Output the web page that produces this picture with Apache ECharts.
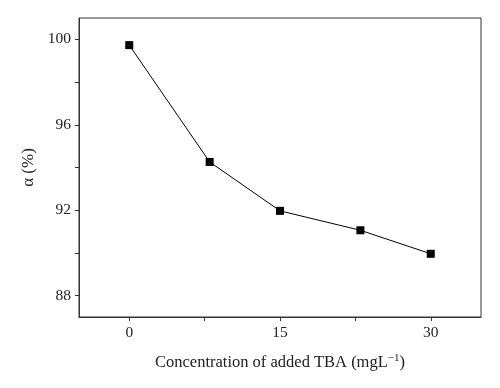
<!DOCTYPE html>
<html><head><meta charset="utf-8">
<script src="https://cdn.jsdelivr.net/npm/echarts@6/dist/echarts.min.js"></script>
<style>html,body{margin:0;padding:0;background:#fff}#c{width:500px;height:388px}</style>
</head><body><div id="c"></div>
<script>
const concentrations = [0, 8, 15, 23, 30];
const alphaValues = [99.73, 94.26, 91.97, 91.06, 89.96];
const xTicks = [0, 15, 30];
const xMinorTicks = [0, 7.5, 15, 22.5, 30];
const yTicks = [88, 92, 96, 100];
const yMinorTicks = [88, 90, 92, 94, 96, 98, 100];

const font = '"Liberation Serif", "DejaVu Serif", serif';
const chart = echarts.init(document.getElementById('c'), null, {renderer: 'canvas'});
chart.setOption({
  animation: false,
  backgroundColor: '#fff',
  grid: {left: 79, right: 19, top: 18, bottom: 71, show: true, borderColor: '#333', borderWidth: 1},
  xAxis: {
    type: 'value', min: -5, max: 35,
    axisLine: {show: true, onZero: false, lineStyle: {color: '#333', width: 1}},
    axisTick: {show: true, inside: false, length: 4, customValues: xMinorTicks, lineStyle: {color: '#333'}},
    splitLine: {show: false},
    axisLabel: {margin: 8, color: '#222', fontFamily: font, fontSize: 15.5, customValues: xTicks},
    name: 'Concentration of added TBA (mgL{sup|−1})',
    nameLocation: 'middle', nameGap: 36,
    nameTextStyle: {color: '#222', fontFamily: font, fontSize: 16.5,
      rich: {sup: {fontSize: 11, verticalAlign: 'top', padding: [0,0,8,0], fontFamily: font, color: '#222'}}}
  },
  yAxis: {
    type: 'value', min: 87, max: 101,
    axisLine: {show: true, onZero: false, lineStyle: {color: '#333', width: 1}},
    axisTick: {show: true, inside: false, length: 4, customValues: yMinorTicks, lineStyle: {color: '#333'}},
    splitLine: {show: false},
    axisLabel: {margin: 8, color: '#222', fontFamily: font, fontSize: 15.5, customValues: yTicks},
    name: 'α (%)', nameLocation: 'middle', nameGap: 42,
    nameTextStyle: {color: '#222', fontFamily: font, fontSize: 17}
  },
  series: [{
    type: 'line',
    data: concentrations.map((c, i) => [c, alphaValues[i]]),
    symbol: 'rect', symbolSize: 8,
    itemStyle: {color: '#000'},
    lineStyle: {color: '#000', width: 1}
  }]
});
</script></body></html>
